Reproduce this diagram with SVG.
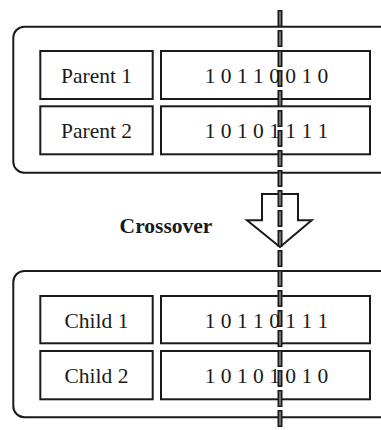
<svg xmlns="http://www.w3.org/2000/svg" width="381" height="430" viewBox="0 0 381 430">
<style>
.outer{fill:none;stroke:#1a1a1a;stroke-width:2}
.box{fill:#fff;stroke:#1a1a1a;stroke-width:2}
.t{font-family:"Liberation Serif","Times New Roman",serif;font-size:21.5px;fill:#1a1a1a;text-anchor:middle}
.b{font-weight:bold}
</style>
<rect width="381" height="430" fill="#fff"/>
<g id="parents">
<rect class="outer" x="13.3" y="26.7" width="385" height="146" rx="11"/>
<g id="parent1">
<rect class="box" x="40.3" y="51" width="112.4" height="48"/>
<text class="t" x="96.5" y="83.3">Parent 1</text>
<rect class="box" x="161" y="51" width="209" height="48"/>
<text class="t" x="266.5" y="83.3" xml:space="preserve">1 0 1 1 0 0 1 0</text>
</g>
<g id="parent2">
<rect class="box" x="40.3" y="106.3" width="112.4" height="48"/>
<text class="t" x="96.5" y="138.3">Parent 2</text>
<rect class="box" x="161" y="106.3" width="209" height="48"/>
<text class="t" x="266.5" y="138.3" xml:space="preserve">1 0 1 0 1 1 1 1</text>
</g>
</g>
<g id="crossover">
<polygon points="262,194 298,194 298,220.3 311.7,220.3 280,247 247,220.3 262,220.3" fill="#fff" stroke="#1a1a1a" stroke-width="2" stroke-linejoin="miter"/>
<text class="t b" x="166" y="233.3">Crossover</text>
</g>
<g id="children">
<rect class="outer" x="13.3" y="271" width="385" height="146.3" rx="11"/>
<g id="child1">
<rect class="box" x="40.3" y="296" width="112.4" height="47.3"/>
<text class="t" x="96.5" y="327.7">Child 1</text>
<rect class="box" x="161" y="296" width="209" height="47.3"/>
<text class="t" x="266.5" y="327.7" xml:space="preserve">1 0 1 1 0 1 1 1</text>
</g>
<g id="child2">
<rect class="box" x="40.3" y="351" width="112.4" height="48.3"/>
<text class="t" x="96.5" y="382.7">Child 2</text>
<rect class="box" x="161" y="351" width="209" height="48.3"/>
<text class="t" x="266.5" y="382.7" xml:space="preserve">1 0 1 0 1 0 1 0</text>
</g>
</g>
<g id="connectors">
<line x1="280" y1="10" x2="280" y2="432" stroke="#1a1a1a" stroke-width="5" stroke-dasharray="17 3"/>
<line x1="280" y1="10" x2="280" y2="432" stroke="#8a8a8a" stroke-width="1.5" stroke-dasharray="14 6" stroke-dashoffset="-1.5"/>
</g>
</svg>
